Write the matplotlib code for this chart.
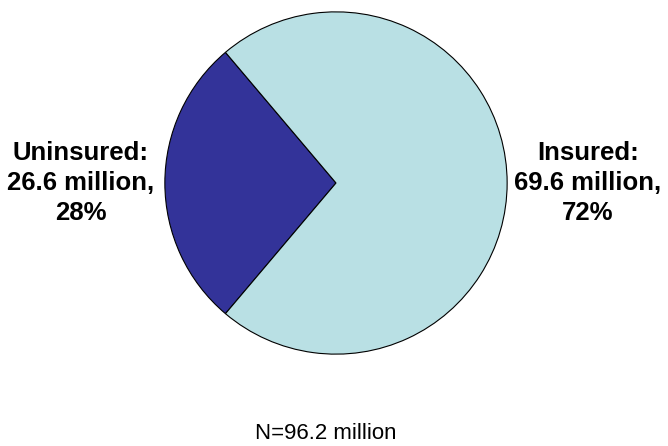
import matplotlib.pyplot as plt

# data
labels = ['Uninsured:\n26.6 million,\n28%', 'Insured:\n69.6 million,\n72%']
values = [26.6, 69.6]
colors = ['#333399', '#B9E0E4']
note = 'N=96.2 million'

plt.rcParams['font.family'] = ['Liberation Sans', 'DejaVu Sans']

fig = plt.figure(figsize=(6.68, 4.46), dpi=100)
# axes sized so the pie sits where it does in the reference
ax = fig.add_axes([(336 - 172) / 668, (446 - 183 - 172) / 446, 344 / 668, 344 / 446])

# uninsured wedge centred on the left
start = 180 - 0.5 * 360 * values[0] / sum(values)
ax.pie(values, colors=colors, startangle=start, counterclock=True,
       wedgeprops={'edgecolor': 'black', 'linewidth': 0.8})
ax.set_xlim(-1.005, 1.005)
ax.set_ylim(-1.005, 1.005)
ax.set_aspect('equal')
ax.axis('off')

fig.text(81 / 668, 1 - 183 / 446, labels[0], ha='center', va='center',
         fontsize=18.5, fontweight='bold', linespacing=1.3)
fig.text(588 / 668, 1 - 183 / 446, labels[1], ha='center', va='center',
         fontsize=18.5, fontweight='bold', linespacing=1.3)
# note sits right at the bottom edge, kept just inside the figure
fig.text(326 / 668, 1 - 439 / 446, note, ha='center', va='baseline', fontsize=16)

plt.savefig('out.png', dpi=100)
